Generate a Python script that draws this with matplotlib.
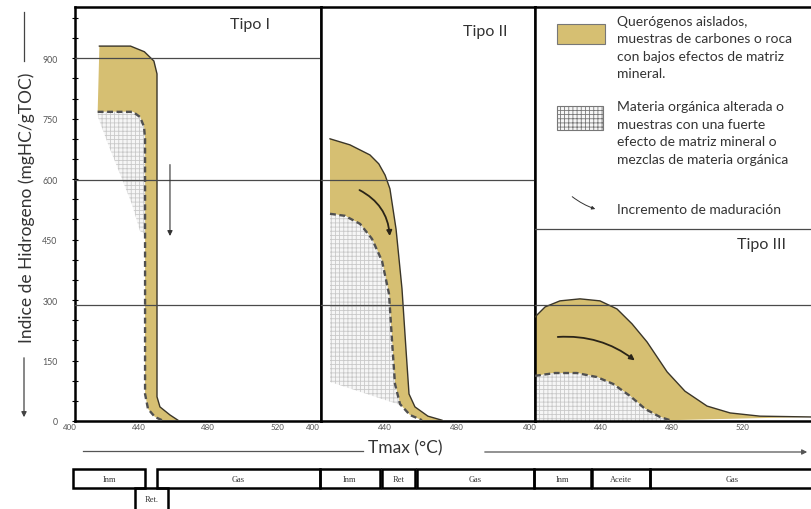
"""Diagrama IH vs Tmax (Tipo I, II, III) con bandas de maduración."""

import matplotlib

matplotlib.use("Agg")
import matplotlib.pyplot as plt
from matplotlib.lines import Line2D
from matplotlib.patches import FancyArrowPatch, Polygon, Rectangle

plt.rcParams["font.family"] = ["Lato", "DejaVu Sans"]
plt.rcParams["hatch.linewidth"] = 0.6

# ---- datos (Tmax en °C, IH en mgHC/gTOC) ----
# Tipo I
t1_outer_T = [417, 435, 443, 448.5, 450.3, 450.3, 452, 457.8, 462.4]
t1_outer_HI = [930, 930, 916, 893, 861, 60, 35, 15, 2]
t1_inner_T = [416, 436.4, 440.5, 442.8, 443.4, 443.4, 445.1, 449.1, 453.2]
t1_inner_HI = [767, 767, 754, 730, 700, 67, 30, 10, 2]
t1_hatch_T = [416, 436.4, 440.5, 442.8, 443.4, 443.4, 440.5, 435.8, 428.9, 422.0, 416.2]
t1_hatch_HI = [767, 767, 754, 730, 700, 464, 471, 538, 613, 687, 754]

# Tipo II
t2_outer_T = [409.4, 420.5, 431.6, 436.5, 440.0, 442.7, 446.1, 449.4, 451.6, 453.3, 456.6, 463.8, 471.6]
t2_outer_HI = [700, 685, 660, 638, 610, 576, 476, 328, 179, 67, 35, 12, 2]
t2_inner_T = [409.4, 417.7, 426.1, 432.7, 438.3, 442.2, 443.8, 445.5, 448.3, 453.8, 460.5]
t2_inner_HI = [514, 509, 489, 452, 397, 315, 203, 92, 42, 15, 2]
t2_hatch_low_T = [448.3, 409.4]
t2_hatch_low_HI = [40, 97]

# Tipo III
t3_outer_T = [402.8, 408.5, 416.9, 428.2, 439.5, 449.1, 457.6, 466.1, 477.4, 487.5, 500.0, 513.0, 529.9, 558.7]
t3_outer_HI = [258, 283, 298, 303, 298, 278, 241, 196, 122, 74, 37, 20, 12, 10]
t3_inner_T = [402.8, 414.1, 426.5, 437.8, 446.9, 456.5, 465.0, 473.4, 479.1]
t3_inner_HI = [112, 119, 119, 109, 92, 62, 30, 10, 2]

# flechas de maduración (inicio, fin)
arrow_I = ((457.8, 643), (457.8, 452))
arrow_II = ((424.4, 576), (442.7, 452))
arrow_III = ((414.1, 208), (460.4, 146))

# líneas horizontales de referencia por panel
hlines_I = [900, 597, 288]
hlines_II = [597, 288]
hlines_III = [476, 288]

# bandas de maduración: (etiqueta, Tmax inicio, Tmax fin, fila)
stages_I = [("Inm", 401.7, 443.4, 0), ("Ret.", 437.6, 456.7, 1), ("Gas", 450.3, 544.5, 0)]
stages_II = [("Inm", 403.8, 437.1, 0), ("Ret", 438.3, 456.6, 0), ("Gas", 457.7, 522.7, 0)]
stages_III = [("Inm", 402.2, 434.4, 0), ("Aceite", 435.0, 467.8, 0), ("Gas", 467.8, 560, 0)]

xtick_I = [400, 440, 480, 520]
xtick_II = [400, 440, 480]
xtick_III = [400, 440, 480, 520]
yticks = [0, 150, 300, 450, 600, 750, 900]
yminor = [50, 100, 200, 250, 350, 400, 500, 550, 650, 700, 800, 850, 950, 1000]

YELLOW = "#d6bf72"
EDGE = "#3a3528"
DASH = "#505050"
GRID = "#4a4a4a"

W, H = 811, 510
fig = plt.figure(figsize=(W / 100, H / 100), dpi=100)


def px_axes(x0, x1, y_top, y_bot):
    return fig.add_axes([x0 / W, 1 - y_bot / H, (x1 - x0) / W, (y_bot - y_top) / H])


ax1 = px_axes(75, 321, 8, 422)
ax2 = px_axes(321, 535, 8, 422)
ax3 = px_axes(535, 811, 8, 422)
ax1.set_xlim(402.9, 545.1)
ax2.set_xlim(404.4, 523.3)
ax3.set_xlim(402.8, 558.7)

for ax in (ax1, ax2, ax3):
    ax.set_ylim(0, 1027)
    ax.set_xticks([])
    for s in ax.spines.values():
        s.set_linewidth(1.8)
        s.set_color("black")
ax3.spines["right"].set_visible(False)
ax2.set_yticks([])
ax3.set_yticks([])

ax1.set_yticks(yticks)
ax1.set_yticks(yminor, minor=True)
ax1.tick_params(axis="y", which="both", direction="inout", length=5, width=0.8,
                labelsize=6.3, labelcolor="#555555", pad=10)


def draw_kerogen(ax, oT, oH, iT, iH, hT, hH):
    ring = list(zip(oT, oH)) + list(zip(iT, iH))[::-1]
    ax.add_patch(Polygon(ring, closed=True, facecolor=YELLOW, edgecolor="none", zorder=2))
    ax.add_patch(Polygon(list(zip(hT, hH)), closed=True, facecolor="#f6f6f6",
                         edgecolor="#c9c9c9", hatch="++++", linewidth=0, zorder=2))
    ax.plot(oT, oH, color=EDGE, lw=1.0, zorder=3)
    ax.plot(iT, iH, color=DASH, lw=1.7, ls=(0, (2.5, 1.5)), zorder=3)


draw_kerogen(ax1, t1_outer_T, t1_outer_HI, t1_inner_T, t1_inner_HI, t1_hatch_T, t1_hatch_HI)
draw_kerogen(ax2, t2_outer_T, t2_outer_HI, t2_inner_T, t2_inner_HI,
             t2_inner_T[:9] + t2_hatch_low_T, t2_inner_HI[:9] + t2_hatch_low_HI)
draw_kerogen(ax3, t3_outer_T, t3_outer_HI, t3_inner_T, t3_inner_HI,
             t3_inner_T + [479.1, 402.8], t3_inner_HI + [0, 0])

for ax, hl in ((ax1, hlines_I), (ax2, hlines_II), (ax3, hlines_III)):
    for v in hl:
        ax.axhline(v, color=GRID, lw=0.9, zorder=4)

# flechas
ax1.add_patch(FancyArrowPatch(*arrow_I, arrowstyle="-|>,head_length=3,head_width=1.5",
                              color="#333333", lw=0.8, zorder=5))
ax2.add_patch(FancyArrowPatch(*arrow_II, connectionstyle="arc3,rad=-0.3",
                              arrowstyle="-|>,head_length=3,head_width=1.5",
                              color="#2a2418", lw=1.3, zorder=5))
ax3.add_patch(FancyArrowPatch(*arrow_III, connectionstyle="arc3,rad=-0.2",
                              arrowstyle="-|>,head_length=3,head_width=1.5",
                              color="#2a2418", lw=1.3, zorder=5))

# títulos de panel
title_kw = dict(ha="center", va="center", fontsize=11.5, color="#333333")
ax1.text(0.711, 0.959, "Tipo I", transform=ax1.transAxes, **title_kw)
ax2.text(0.766, 0.942, "Tipo II", transform=ax2.transAxes, **title_kw)
ax3.text(0.822, 0.428, "Tipo III", transform=ax3.transAxes, **title_kw)

# etiquetas de Tmax bajo cada panel
for ax, ticks in ((ax1, xtick_I), (ax2, xtick_II), (ax3, xtick_III)):
    for t in ticks:
        ax.text(t, -0.004, str(t), transform=ax.get_xaxis_transform(), ha="center",
                va="top", fontsize=5.8, color="#555555", clip_on=False)

# leyenda
tr = ax3.transAxes
ax3.add_patch(Rectangle((0.080, 0.910), 0.174, 0.049, transform=tr, facecolor=YELLOW,
                        edgecolor="#777777", lw=0.8))
ax3.add_patch(Rectangle((0.080, 0.703), 0.166, 0.058, transform=tr, facecolor="#f6f6f6",
                        edgecolor="#777777", hatch="++++", lw=0.8))
leg_kw = dict(transform=tr, ha="left", va="top", fontsize=10, color="#333333",
              linespacing=1.55)
ax3.text(0.297, 0.981, "Querógenos aislados,\nmuestras de carbones o roca\n"
         "con bajos efectos de matriz\nmineral.", **leg_kw)
ax3.text(0.297, 0.775, "Materia orgánica alterada o\nmuestras con una fuerte\n"
         "efecto de matriz mineral o\nmezclas de materia orgánica", **leg_kw)
ax3.text(0.297, 0.512, "Incremento de maduración", transform=tr, ha="left", va="center",
         fontsize=10, color="#333333")
ax3.add_patch(FancyArrowPatch((0.127, 0.546), (0.228, 0.510), transform=tr,
                              arrowstyle="-|>,head_length=2,head_width=1",
                              connectionstyle="arc3,rad=0.1", color="#333333", lw=0.7))

# bandas de maduración bajo los paneles
row_y = [(-0.116, -0.162), (-0.162, -0.215)]
for ax, stages in ((ax1, stages_I), (ax2, stages_II), (ax3, stages_III)):
    trx = ax.get_xaxis_transform()
    for label, t0, t1, row in stages:
        y0, y1 = row_y[row]
        ax.add_patch(Rectangle((t0, y1), t1 - t0, y0 - y1, transform=trx, fill=False,
                               edgecolor="black", lw=1.8, clip_on=False))
        ax.text((t0 + t1) / 2, (y0 + y1) / 2, label, transform=trx, ha="center",
                va="center", fontsize=6, color="#333333", family="Liberation Serif",
                clip_on=False)

# eje y: texto con línea y flecha
fig.text(27 / W, 1 - 208 / H, "Indice de Hidrogeno (mgHC/gTOC)", rotation=90,
         ha="center", va="center", fontsize=12.5, color="#333333")
fig.add_artist(Line2D([24 / W, 24 / W], [1 - 13 / H, 1 - 62 / H], color="#444444", lw=0.9))
fig.add_artist(FancyArrowPatch((24 / W, 1 - 356 / H), (24 / W, 1 - 421 / H),
                               transform=fig.transFigure, color="#444444", lw=0.9,
                               arrowstyle="-|>,head_length=3,head_width=1.5"))

# eje x: Tmax con línea y flecha
fig.text(405 / W, 1 - 448 / H, "Tmax (°C)", ha="center", va="center", fontsize=12.5,
         color="#333333")
fig.add_artist(Line2D([83 / W, 363 / W], [1 - 452 / H, 1 - 452 / H], color="#555555", lw=0.9))
fig.add_artist(FancyArrowPatch((482 / W, 1 - 453 / H), (810 / W, 1 - 453 / H),
                               transform=fig.transFigure, color="#555555", lw=0.9,
                               arrowstyle="-|>,head_length=3,head_width=1.5"))

fig.savefig("out.png", dpi=100)
